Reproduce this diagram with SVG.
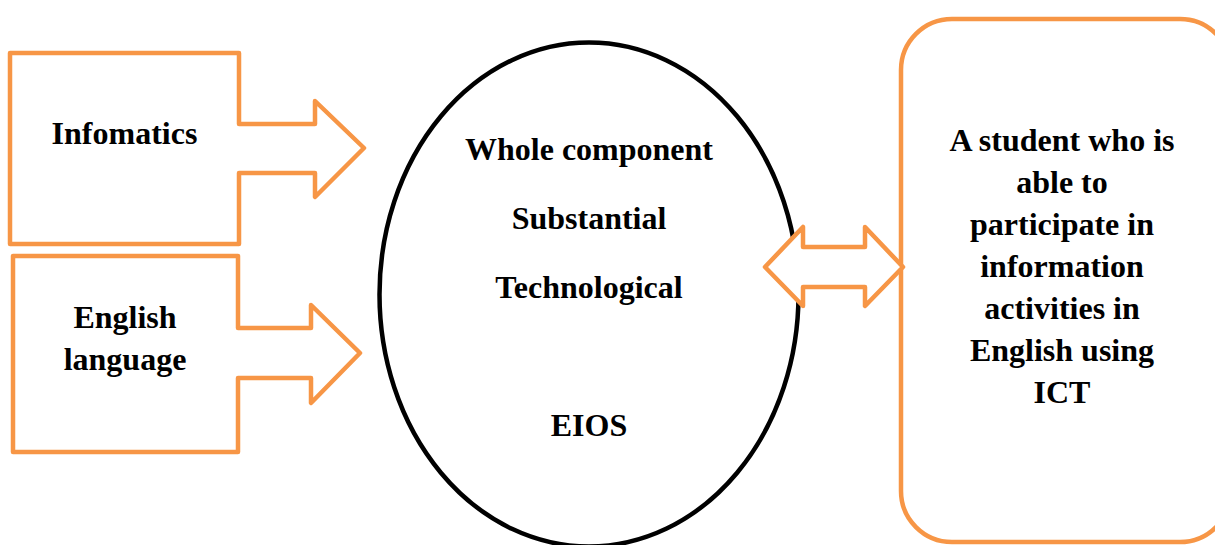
<svg xmlns="http://www.w3.org/2000/svg" width="1215" height="545" viewBox="0 0 1215 545">
<style>
.o{fill:#ffffff;stroke:#F79646;stroke-width:4.5;stroke-linejoin:round}
.k{fill:#ffffff;stroke:#000000;stroke-width:4.5}
text{font-family:"Liberation Serif","Times New Roman",serif;font-weight:bold;font-size:32px;fill:#000;text-anchor:middle}
</style>
<rect width="1215" height="545" fill="#ffffff"/>
<g id="infomatics">
<path class="o" d="M10,53 L239,53 L239,124 L315,124 L315,101 L364,148 L315,197 L315,173 L239,173 L239,244 L10,244 Z"/>
<text x="124.5" y="144">Infomatics</text>
</g>
<g id="english">
<path class="o" d="M13,256 L238,256 L238,328 L311,328 L311,305 L360,353 L311,403 L311,378 L238,378 L238,452 L13,452 Z"/>
<text x="125" y="328">English</text>
<text x="125" y="370">language</text>
</g>
<g id="eios">
<ellipse class="k" cx="589" cy="294.5" rx="209.5" ry="252"/>
<text x="589" y="160">Whole component</text>
<text x="589" y="229">Substantial</text>
<text x="589" y="298">Technological</text>
<text x="589" y="436">EIOS</text>
</g>
<g id="student">
<rect class="o" x="901" y="19" width="330" height="523" rx="51" ry="51"/>
<text x="1062" y="151">A student who is</text>
<text x="1062" y="193">able to</text>
<text x="1062" y="235">participate in</text>
<text x="1062" y="277">information</text>
<text x="1062" y="319">activities in</text>
<text x="1062" y="361">English using</text>
<text x="1062" y="403">ICT</text>
</g>
<g id="connectors">
<path class="o" d="M765,267 L803,227 L803,247 L865,247 L865,227 L903,267 L865,306 L865,287 L803,287 L803,306 Z"/>
</g>
</svg>
